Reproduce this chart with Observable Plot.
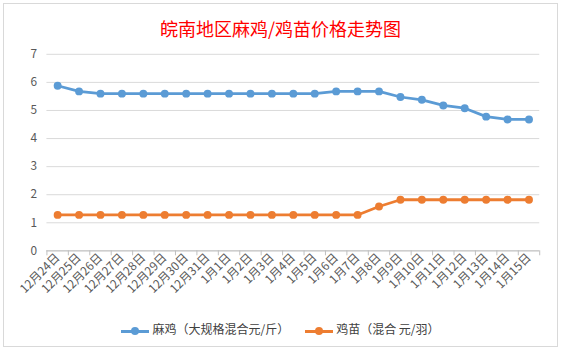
<!DOCTYPE html>
<html><head><meta charset="utf-8">
<script src="https://cdn.jsdelivr.net/npm/d3@7"></script>
<script src="https://cdn.jsdelivr.net/npm/@observablehq/plot@0.6"></script>
<style>
html,body{margin:0;padding:0;background:#fff;}
#wrap{position:absolute;left:3px;top:3px;width:555px;height:344px;border:1px solid #d9d9d9;box-sizing:border-box;font-family:"Noto Sans CJK SC",sans-serif;}
#title{position:absolute;left:0;top:4px;width:100%;height:40px;line-height:40px;text-align:center;color:#ff0000;font-size:18px;font-weight:normal;}
#chart{position:absolute;left:-3px;top:37px;}
#legend{position:absolute;left:0;top:314px;width:100%;text-align:center;font-size:12px;color:#404040;}
.li{display:inline-block;margin:0 8px;vertical-align:middle;}
.sw{display:inline-block;position:relative;width:28px;height:10px;vertical-align:middle;margin-right:3px;}
.sw i{position:absolute;left:0;top:4px;width:28px;height:3px;}
.sw b{position:absolute;left:10px;top:1px;width:8px;height:8px;border-radius:50%;}
</style></head>
<body>
<div id="wrap">
<div id="title">皖南地区麻鸡/鸡苗价格走势图</div>
<div id="chart"></div>
<div id="legend"></div>
</div>
<script>
const categories = ["12月24日","12月25日","12月26日","12月27日","12月28日","12月29日","12月30日","12月31日","1月1日","1月2日","1月3日","1月4日","1月5日","1月6日","1月7日","1月8日","1月9日","1月10日","1月11日","1月12日","1月13日","1月14日","1月15日"];
const chickenPrices = [5.88,5.68,5.6,5.6,5.6,5.6,5.6,5.6,5.6,5.6,5.6,5.6,5.6,5.68,5.68,5.68,5.48,5.38,5.18,5.08,4.78,4.68,4.68];
const chickPrices = [1.28,1.28,1.28,1.28,1.28,1.28,1.28,1.28,1.28,1.28,1.28,1.28,1.28,1.28,1.28,1.58,1.82,1.82,1.82,1.82,1.82,1.82,1.82];
const seriesNames = ["麻鸡（大规格混合元/斤）","鸡苗（混合 元/羽）"];
const colors = ["#5b9bd5","#ed7d31"];
const yTicks = [0,1,2,3,4,5,6,7];

const data = [];
categories.forEach((c,i)=>{
  data.push({i, v: chickenPrices[i], s: seriesNames[0]});
  data.push({i, v: chickPrices[i], s: seriesNames[1]});
});
const boundaries = d3.range(categories.length+1).map(k=>k-0.5);

const chart = Plot.plot({
  width: 563, height: 272,
  marginLeft: 46, marginRight: 18, marginTop: 13, marginBottom: 60,
  style: {fontFamily: "'Noto Sans CJK SC', sans-serif", fontSize: "12px", color: "#595959", background: "transparent"},
  x: {type: "linear", domain: [-0.5, categories.length-0.5]},
  y: {domain: [0,7]},
  color: {domain: seriesNames, range: colors},
  marks: [
    Plot.gridY(yTicks, {stroke: "#d9d9d9", strokeOpacity: 1}),
    Plot.axisY(yTicks, {tickSize: 0, tickPadding: 10, fontSize: 12, fill: "#595959", label: null}),
    Plot.ruleY([0], {stroke: "#bfbfbf"}),
    Plot.axisX(boundaries, {tickSize: 5, tickFormat: () => "", stroke: "#bfbfbf", label: null}),
    Plot.axisX(d3.range(categories.length), {tickSize: 0, tickPadding: 5, tickRotate: -45, tickFormat: i => categories[i], fontSize: 12, fill: "#595959", label: null}),
    Plot.line(data, {x: "i", y: "v", z: "s", stroke: "s", strokeWidth: 2.8}),
    Plot.dot(data, {x: "i", y: "v", fill: "s", r: 4})
  ]
});
document.getElementById("chart").appendChild(chart);

const lg = document.getElementById("legend");
seriesNames.forEach((n,k)=>{
  const s = document.createElement("span"); s.className="li";
  s.innerHTML = `<span class="sw"><i style="background:${colors[k]}"></i><b style="background:${colors[k]}"></b></span>${n}`;
  lg.appendChild(s);
});
</script>
</body></html>
